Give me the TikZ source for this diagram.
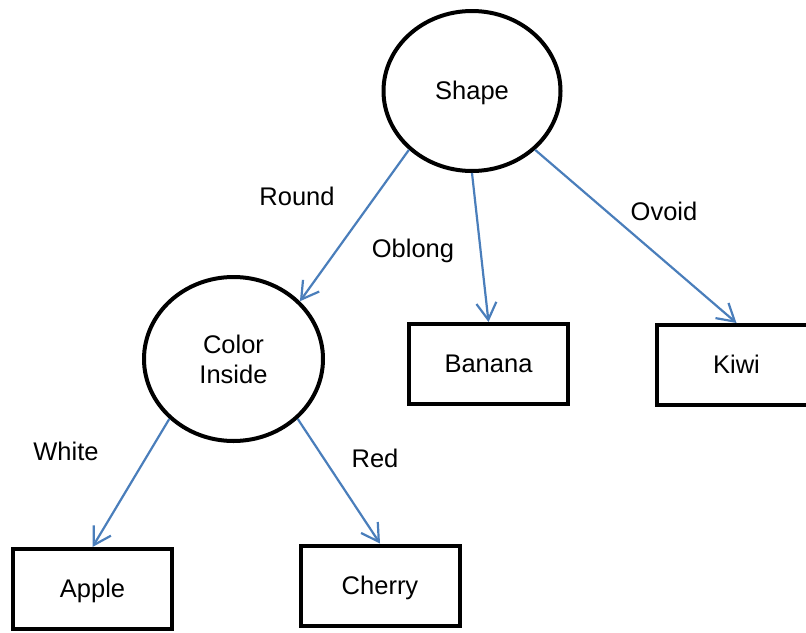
\documentclass[tikz,border=0pt]{standalone}
\usepackage{fontspec}
\setmainfont{Liberation Sans}
\usetikzlibrary{arrows.meta,shapes.geometric}
\definecolor{edgeblue}{RGB}{74,126,187}
\begin{document}
\begin{tikzpicture}[x=1pt,y=-1pt,
  font=\fontsize{25.5}{30}\selectfont,
  linebox/.style={text height=23.1pt,text depth=5.4pt},
  decision/.style={ellipse,draw=black,line width=4pt,inner sep=0pt,align=center},
  leaf/.style={rectangle,draw=black,line width=4pt,minimum width=159pt,minimum height=80pt,inner sep=0pt,linebox},
  branch/.style={draw=edgeblue,line width=2.2pt,-{Straight Barb[length=17pt,width=20pt]}},
  lbl/.style={inner sep=0pt,text=black,linebox}]
\clip (0,0) rectangle (806,632);

% decision nodes
\node[decision,linebox,minimum width=177pt,minimum height=160pt] (shape) at (472,91) {Shape};
\node[decision,minimum width=179pt,minimum height=164pt] (color) at (233.5,359) {Color\\Inside};

% leaves
\node[leaf] (banana) at (488.5,364) {Banana};
\node[leaf] (kiwi)   at (736.5,365) {Kiwi};
\node[leaf] (apple)  at (92.5,589)  {Apple};
\node[leaf] (cherry) at (380,585.5) {Cherry};

% branches
\draw[branch] (shape.223) -- (color.41);
\draw[branch] (shape.south) -- (banana.north);
\draw[branch] (shape.317) -- (kiwi.north);
\draw[branch] (color.223) -- (apple.north);
\draw[branch] (color.317) -- (cherry.north);

% branch labels
\node[lbl] (lround)  at (297,197) {Round};
\node[lbl] (loblong) at (413,249) {Oblong};
\node[lbl] (lovoid)  at (664,212) {Ovoid};
\node[lbl] (lwhite)  at (66,452)  {White};
\node[lbl] (lred)    at (375,459) {Red};
\end{tikzpicture}
\end{document}
